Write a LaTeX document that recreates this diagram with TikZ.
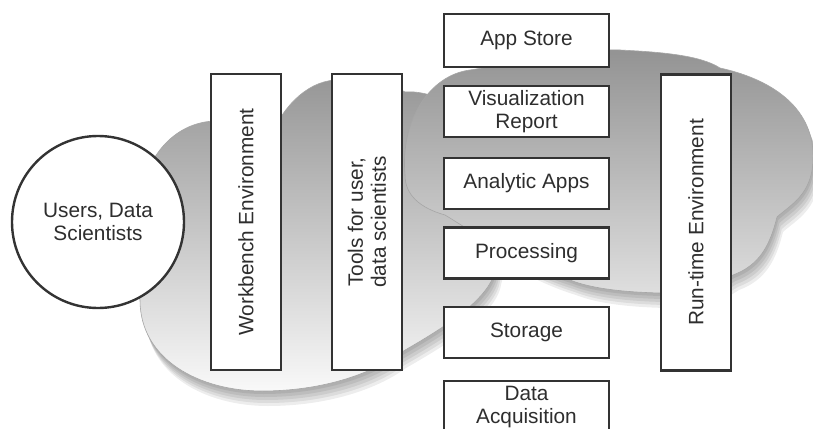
\documentclass[tikz,border=0pt]{standalone}
\usepackage{fontspec}
\setmainfont{Liberation Sans}
\begin{document}
\begin{tikzpicture}[x=1pt,y=-1pt,
  txt/.style={text=black!82, font=\fontsize{20.8}{23}\selectfont, align=center},
  hbox/.style={txt, draw=black!80, line width=2.6pt, fill=white, minimum width=165pt, minimum height=51pt, inner sep=0pt},
  vbox/.style={txt, draw=black!80, line width=2.6pt, fill=white, rotate=90, minimum width=296pt, minimum height=70pt, inner sep=0pt},
  circ/.style={txt, draw=black!80, line width=2.4pt, fill=white, circle, minimum size=172pt, inner sep=0pt},
  shadowfill/.style={fill=black, opacity=0.07},
]
\useasboundingbox (0,0) rectangle (813,428);
\clip (0,0) rectangle (813,428);
\fill[white] (0,0) rectangle (813,428);

\def\leftcloud{(140,300) .. controls (140,360) and (200,391) .. (262,391)
  .. controls (320,391) and (370,375) .. (400,353)
  .. controls (440,330) and (490,300) .. (495,270)
  .. controls (505,230) and (510,160) .. (480,130)
  .. controls (460,105) and (430,90) .. (405,92)
  .. controls (385,80) and (355,78) .. (335,80)
  .. controls (305,82) and (280,110) .. (270,140)
  .. controls (255,122) and (230,118) .. (205,122)
  .. controls (170,128) and (145,160) .. (140,200)
  .. controls (132,240) and (135,280) .. (140,300) -- cycle}
\def\rightcloud{(405,175) .. controls (400,120) and (430,75) .. (470,70)
  .. controls (520,62) and (580,48) .. (620,50)
  .. controls (660,52) and (700,55) .. (720,68)
  .. controls (775,80) and (815,110) .. (813,160)
  .. controls (812,195) and (790,205) .. (777,217)
  .. controls (770,245) and (760,265) .. (733,275)
  .. controls (710,290) and (690,295) .. (660,293)
  .. controls (620,292) and (590,288) .. (570,280)
  .. controls (520,265) and (470,230) .. (445,215)
  .. controls (420,208) and (405,195) .. (405,175) -- cycle}

% shadows
\foreach \s in {3,6,9,12,15} {
  \fill[shadowfill, shift={(\s*0.4,\s)}] \leftcloud;
  \fill[shadowfill, shift={(\s*0.4,\s)}] \rightcloud;
}
% clouds
\shade[draw=gray!70, line width=0.6pt, top color=gray!82, middle color=gray!58, bottom color=gray!5] \leftcloud;
\shade[draw=gray!70, line width=0.6pt, top color=gray!85, middle color=gray!55, bottom color=gray!25] \rightcloud;

% nodes
\node[circ] (users) at (98,222) {Users, Data\\Scientists};
\node[vbox] (wb) at (246,222) {Workbench Environment};
\node[vbox] (tools) at (367,222) {Tools for user,\\data scientists};
\node[vbox] (rt) at (696,222.5) {Run-time Environment};
\node[hbox, minimum height=53pt] (store) at (526.5,40.5) {App Store};
\node[hbox] (vis) at (526.5,111.5) {Visualization\\Report};
\node[hbox] (ana) at (526.5,183.5) {Analytic Apps};
\node[hbox] (proc) at (526.5,253) {Processing};
\node[hbox] (stor) at (526.5,332.5) {Storage};
\node[hbox] (acq) at (526.5,406.5) {Data\\Acquisition};
\end{tikzpicture}
\end{document}
